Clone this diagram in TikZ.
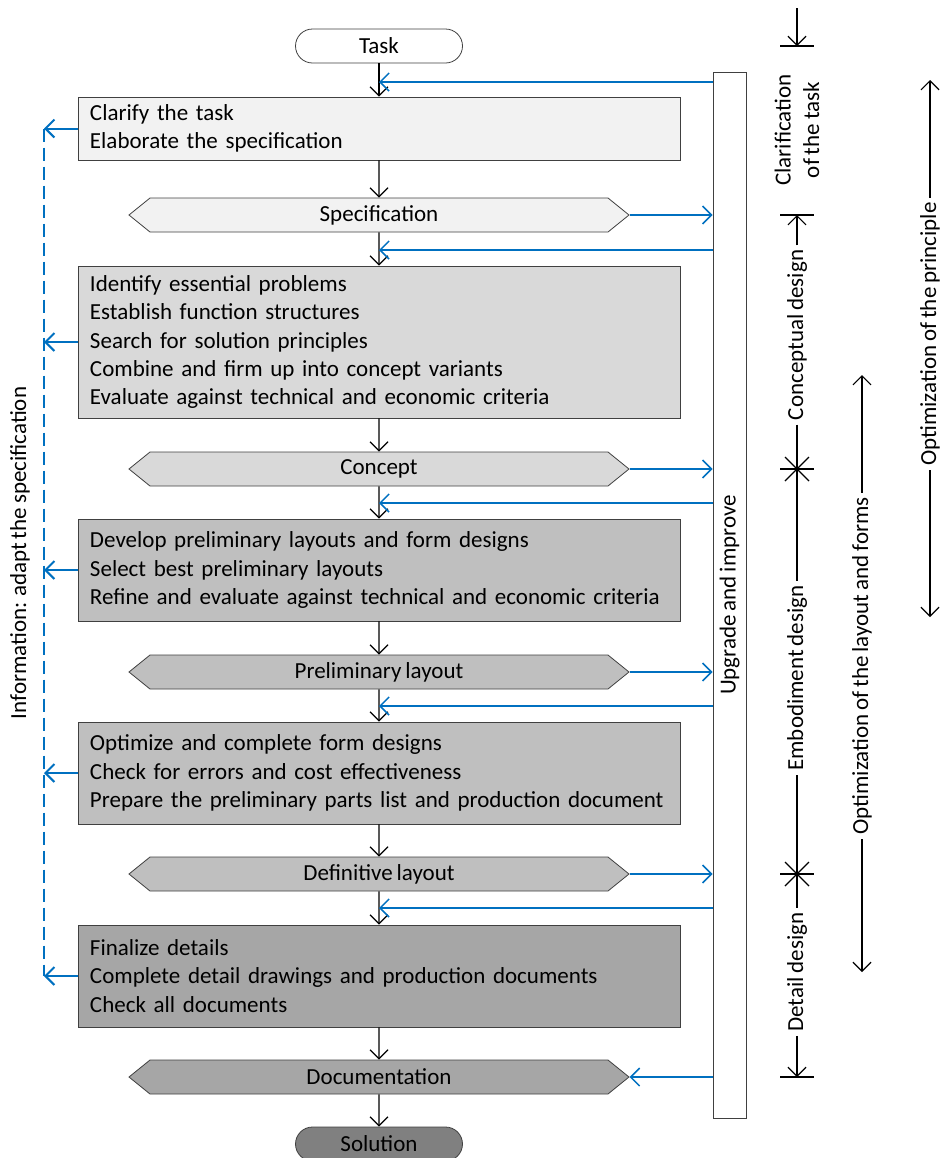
\documentclass[tikz,border=0pt]{standalone}
\usepackage{fontspec}
\setmainfont{Carlito}[WordSpace=0.75]
\usepackage{tikz}
\usetikzlibrary{positioning,shapes.symbols,arrows.meta}
\usepackage{xcolor}
\definecolor{fbblue}{RGB}{0,112,192}
\definecolor{edge}{RGB}{64,64,64}
\definecolor{shadeA}{RGB}{242,242,242}
\definecolor{shadeB}{RGB}{217,217,217}
\definecolor{shadeC}{RGB}{191,191,191}
\definecolor{shadeD}{RGB}{166,166,166}
\definecolor{shadeE}{RGB}{128,128,128}
\tikzset{
	every node/.append style={font=\fontsize{11.5}{14.2}\selectfont},
	stepbox/.style={draw=edge, fill=#1, minimum width=301pt, text width=289pt,
		align=left, inner xsep=6pt, inner ysep=0pt},
	result/.style={draw=edge, fill=#1, signal, signal to=west and east,
		signal pointer angle=78, minimum width=250pt, minimum height=17pt, inner sep=0pt},
	terminal/.style={draw=edge, fill=#1, rounded corners=8.5pt,
		minimum width=83.5pt, minimum height=17pt, inner sep=0pt},
	flow/.style={->, black, line width=0.6pt},
	feedback/.style={->, fbblue, line width=0.75pt},
	phase/.style={rotate=90, inner xsep=2pt, inner ysep=0pt, align=center},
	tick/.style={black, line width=0.6pt}
}

\begin{document}
\begin{tikzpicture}[x=0.5pt, y=-0.5pt, >={Straight Barb[length=4.5pt,width=9pt]}]
	\useasboundingbox (0,0) rectangle (941,1158);
	
	\node[terminal=white] (task) at (379,46) {Task};
	\node[stepbox=shadeA, minimum height=31.5pt] (s1) at (379,128.5) {Clarify the task\\Elaborate the specification};
	\node[result=shadeA] (r1) at (379,215) {Specification};
	\node[stepbox=shadeB, minimum height=76pt] (s2) at (379,342) {Identify essential problems\\Establish function structures\\Search for solution principles\\Combine and firm up into concept variants\\Evaluate against technical and economic criteria};
	\node[result=shadeB] (r2) at (379,469) {Concept};
	\node[stepbox=shadeC, minimum height=51pt] (s3) at (379,570) {Develop preliminary layouts and form designs\\Select best preliminary layouts\\Refine and evaluate against technical and economic criteria};
	\node[result=shadeC] (r3) at (379,672) {Preliminary layout};
	\node[stepbox=shadeC, minimum height=51pt] (s4) at (379,773) {Optimize and complete form designs\\Check for errors and cost effectiveness\\Prepare the preliminary parts list and production document};
	\node[result=shadeC] (r4) at (379,874) {Definitive layout};
	\node[stepbox=shadeD, minimum height=51pt] (s5) at (379,976) {Finalize details\\Complete detail drawings and production documents\\Check all documents};
	\node[result=shadeD] (r5) at (379,1077) {Documentation};
	\node[terminal=shadeE] (sol) at (379,1144) {Solution};
	
	\node[draw=edge, minimum width=16.5pt, minimum height=523pt, inner sep=0pt] (bar) at (729.5,595) {};
	\node[rotate=90] (barlabel) at (bar.center) {Upgrade and improve};
	
	\draw[flow] (task) -- (s1);
	\draw[flow] (s1) -- (r1);
	\draw[flow] (r1) -- (s2);
	\draw[flow] (s2) -- (r2);
	\draw[flow] (r2) -- (s3);
	\draw[flow] (s3) -- (r3);
	\draw[flow] (r3) -- (s4);
	\draw[flow] (s4) -- (r4);
	\draw[flow] (r4) -- (s5);
	\draw[flow] (s5) -- (r5);
	\draw[flow] (r5) -- (sol);
	
	\coordinate (in1) at (379,82);
	\coordinate (in2) at (379,250);
	\coordinate (in3) at (379,503);
	\coordinate (in4) at (379,706);
	\coordinate (in5) at (379,908);
	\draw[feedback] (bar.west |- in1) -- (in1);
	\draw[feedback] (bar.west |- in2) -- (in2);
	\draw[feedback] (bar.west |- in3) -- (in3);
	\draw[feedback] (bar.west |- in4) -- (in4);
	\draw[feedback] (bar.west |- in5) -- (in5);
	\draw[feedback] (r1.east) -- (r1.east -| bar.west);
	\draw[feedback] (r2.east) -- (r2.east -| bar.west);
	\draw[feedback] (r3.east) -- (r3.east -| bar.west);
	\draw[feedback] (r4.east) -- (r4.east -| bar.west);
	\draw[feedback] (r5.east -| bar.west) -- (r5.east);
	
	\coordinate (info) at (44,0);
	\draw[fbblue, line width=0.75pt, dash pattern=on 6.5pt off 3pt] (s1.west -| info) -- (s5.west -| info);
	\draw[feedback, line width=1pt] (s1.west) -- (s1.west -| info);
	\draw[feedback, line width=1pt] (s2.west) -- (s2.west -| info);
	\draw[feedback, line width=1pt] (s3.west) -- (s3.west -| info);
	\draw[feedback, line width=1pt] (s4.west) -- (s4.west -| info);
	\draw[feedback, line width=1pt] (s5.west) -- (s5.west -| info);
	\node[rotate=90] (infolabel) at (20,553) {Information: adapt the specification};
	
	% phases
	\coordinate (topA) at (797,8);
	\coordinate (tA0) at (797,46);
	\coordinate (tA1) at (797,215);
	\coordinate (tA2) at (797,469);
	\coordinate (tA3) at (797,874);
	\coordinate (tA4) at (797,1077);
	\node[phase] (clar) at (797,130) {Clarification\\of the task};
	\node[phase] (conc) at (797,335) {Conceptual design};
	\node[phase] (emb) at (797,678) {Embodiment design};
	\node[phase] (det) at (797,972) {Detail design};
	\draw[flow] (topA) -- (tA0);
	\draw[flow] (conc.east) -- (tA1);
	\draw[tick] (conc.west) -- (tA2) -- (emb.east);
	\draw[tick] (emb.west) -- (tA3) -- (det.east);
	\draw[flow] (det.west) -- (tA4);
	\draw[tick] ([xshift=-8.5pt]tA0) -- ([xshift=8.5pt]tA0);
	\draw[tick] ([xshift=-8.5pt]tA1) -- ([xshift=8.5pt]tA1);
	\draw[tick] ([xshift=-8.5pt]tA2) -- ([xshift=8.5pt]tA2);
	\draw[tick] ([shift={(-6pt,-6pt)}]tA2) -- ([shift={(6pt,6pt)}]tA2);
	\draw[tick] ([shift={(-6pt,6pt)}]tA2) -- ([shift={(6pt,-6pt)}]tA2);
	\draw[tick] ([xshift=-8.5pt]tA3) -- ([xshift=8.5pt]tA3);
	\draw[tick] ([shift={(-6pt,-6pt)}]tA3) -- ([shift={(6pt,6pt)}]tA3);
	\draw[tick] ([shift={(-6pt,6pt)}]tA3) -- ([shift={(6pt,-6pt)}]tA3);
	\draw[tick] ([xshift=-8.5pt]tA4) -- ([xshift=8.5pt]tA4);
	
	\node[phase] (optlay) at (862,666) {Optimization of the layout and forms};
	\coordinate (lay1) at (862,375);
	\coordinate (lay2) at (862,972);
	\draw[flow] (optlay.east) -- (lay1);
	\draw[flow] (optlay.west) -- (lay2);
	
	\node[phase] (optpri) at (930,334) {Optimization of the principle};
	\coordinate (pri1) at (930,80);
	\coordinate (pri2) at (930,617);
	\draw[flow] (optpri.east) -- (pri1);
	\draw[flow] (optpri.west) -- (pri2);
\end{tikzpicture}
\end{document}
